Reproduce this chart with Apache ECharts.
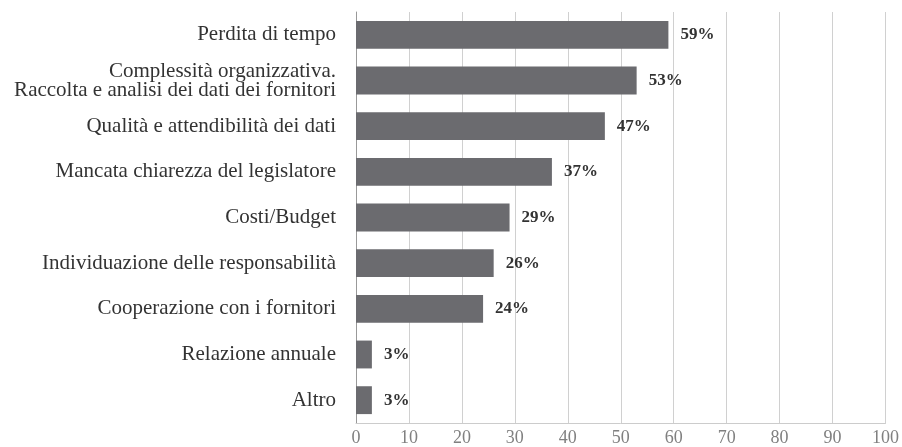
<!DOCTYPE html>
<html>
<head>
<meta charset="utf-8">
<script src="https://cdn.jsdelivr.net/npm/echarts@6/dist/echarts.min.js"></script>
<style>
  html, body { margin: 0; padding: 0; background: #fff; }
  #chart { width: 902px; height: 447px; }
</style>
</head>
<body>
<div id="chart"></div>
<script>
  var categories = [
    'Perdita di tempo',
    'Complessità organizzativa.\nRaccolta e analisi dei dati dei fornitori',
    'Qualità e attendibilità dei dati',
    'Mancata chiarezza del legislatore',
    'Costi/Budget',
    'Individuazione delle responsabilità',
    'Cooperazione con i fornitori',
    'Relazione annuale',
    'Altro'
  ];
  var values = [59, 53, 47, 37, 29, 26, 24, 3, 3];
  var xTicks = [0, 10, 20, 30, 40, 50, 60, 70, 80, 90, 100];

  var chart = echarts.init(document.getElementById('chart'));
  var serif = '"Liberation Serif", "DejaVu Serif", serif';

  chart.setOption({
    animation: false,
    grid: { left: 356, right: 16, top: 12, bottom: 24, containLabel: false },
    xAxis: {
      type: 'value',
      min: xTicks[0],
      max: xTicks[xTicks.length - 1],
      interval: 10,
      axisLine: { show: true, lineStyle: { color: '#cccccc', width: 1 } },
      axisTick: { show: false },
      axisLabel: { color: '#808080', fontFamily: serif, fontSize: 18, margin: 6 },
      splitLine: { show: true, lineStyle: { color: '#d0d0d0', width: 1 } }
    },
    yAxis: {
      type: 'category',
      inverse: true,
      data: categories,
      axisLine: { show: true, lineStyle: { color: '#999999', width: 1 } },
      axisTick: { show: false },
      axisLabel: { color: '#333333', fontFamily: serif, fontSize: 21, margin: 20, lineHeight: 19, align: 'right' }
    },
    series: [{
      type: 'bar',
      data: values,
      barCategoryGap: '39%',
      itemStyle: { color: '#6b6b6f' },
      label: {
        show: true,
        position: 'right',
        distance: 12,
        formatter: '{c}%',
        fontFamily: serif,
        fontWeight: 'bold',
        fontSize: 17,
        color: '#333333'
      }
    }]
  });
</script>
</body>
</html>
